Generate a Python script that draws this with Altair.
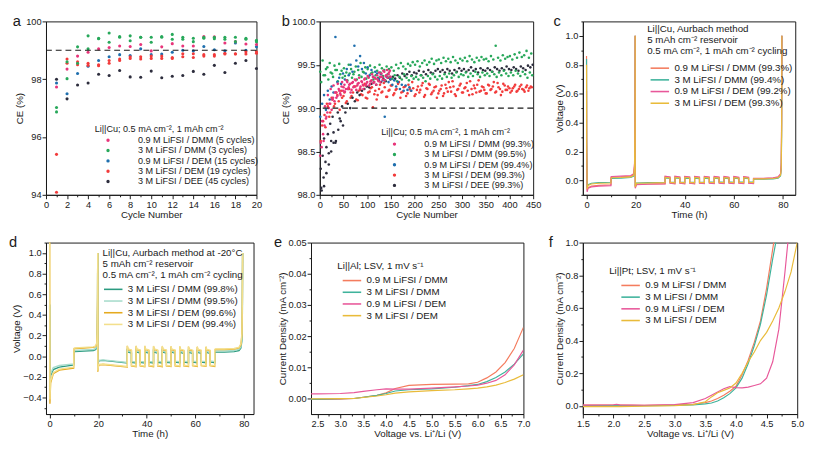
import altair as alt
import pandas as pd

FONT = "Liberation Sans"
INK = "#1a1a1a"

# ---------------- colours ----------------
dot_colors = ["#e8357a", "#27a85a", "#1f6fae", "#f23b3b", "#2d2d3d"]
line_colors = ["#f47c5e", "#3fb39c", "#e8589a", "#e9bb3a"]
d_colors = ["#2b9b80", "#a8dccc", "#e5aa1f", "#f3df8c"]
ref_ce = [99.0]

# ---------------- panel a ----------------
a_names = ["0.9 M LiFSI / DMM (5 cycles)", "3 M LiFSI / DMM (3 cycles)",
           "0.9 M LiFSI / DEM (15 cycles)", "3 M LiFSI / DEM (19 cycles)",
           "3 M LiFSI / DEE (45 cycles)"]
a_cycles = list(range(1, 21))
a_09dmm = [97.73, 98.35, 98.80, 98.93, 99.05, 99.10, 99.15, 99.13, 99.20, 98.98,
           99.12, 99.23, 99.15, 99.15, 99.48, 99.47, 99.25, 99.30, 99.22, 99.20]
a_3dmm_1 = [97.02, 98.60, 99.12, 99.50, 99.42, 99.60, 99.48, 99.50, 99.45, 99.45,
            99.48, 99.55, 99.45, 99.42, 99.42, 99.45, 99.45, 99.45, 99.42, 99.35]
a_3dmm_2 = [96.87, 98.02, 98.55, 99.05, 99.40, 99.28, 99.45, 99.33, 99.45, 99.28,
            99.45, 99.38, 99.38, 99.30, 99.45, 99.40, 99.38, 99.30, 99.38, 99.30]
a_09dem = [97.87, 97.50, 98.20, 98.45, 98.65, 98.78, 98.85, 98.82, 99.05, 98.85,
           98.87, 98.93, 99.00, 98.98, 99.13, 99.02, 98.98, 99.25, 99.00, 99.12]
a_3dem_1 = [95.40, 98.70, 98.60, 98.55, 98.47, 98.65, 98.70, 98.78, 98.78, 98.80,
            98.80, 98.75, 98.88, 98.88, 98.85, 98.85, 98.90, 98.88, 98.95, 98.95]
a_3dem_2 = [94.09, 98.55, 98.50, 98.48, 98.50, 98.55, 98.65, 98.72, 98.70, 98.72,
            98.72, 98.72, 98.78, 98.75, 98.80, 98.80, 98.87, 98.87, 98.87, 98.90]
a_3dee = [98.00, 97.32, 97.80, 97.87, 98.17, 98.13, 98.30, 98.08, 98.07, 98.28,
          98.05, 98.10, 98.13, 98.27, 98.17, 98.48, 98.23, 98.55, 98.65, 98.37]

# ---------------- panel b ----------------
b_names = ["0.9 M LiFSI / DMM (99.3%)", "3 M LiFSI / DMM (99.5%)",
           "0.9 M LiFSI / DEM (99.4%)", "3 M LiFSI / DEM (99.3%)",
           "3 M LiFSI / DEE (99.3%)"]
b_cyc_g1 = list(range(1, 450, 5))
b_3dmm_upper = [99.42, 99.55, 99.38, 99.47, 99.52, 99.40, 99.49, 99.44, 99.51, 99.43,
                99.46, 99.41, 99.50, 99.45, 99.39, 99.48, 99.44, 99.52, 99.42, 99.47,
                99.45, 99.49, 99.41, 99.47, 99.43, 99.50, 99.46, 99.44, 99.48, 99.45,
                99.47, 99.43, 99.50, 99.46, 99.52, 99.48, 99.45, 99.51, 99.49, 99.53,
                99.50, 99.54, 99.48, 99.52, 99.55, 99.50, 99.53, 99.57, 99.51, 99.55,
                99.56, 99.52, 99.58, 99.54, 99.57, 99.53, 99.59, 99.55, 99.52, 99.57,
                99.55, 99.58, 99.54, 99.60, 99.56, 99.53, 99.58, 99.55, 99.59, 99.56,
                99.57, 99.54, 99.60, 99.56, 99.72, 99.58, 99.55, 99.61, 99.57, 99.59,
                99.60, 99.56, 99.62, 99.58, 99.64, 99.59, 99.61, 99.66, 99.58, 99.63]
b_cyc_g2 = list(range(3, 450, 5))
b_3dmm_lower = [99.30, 99.38, 99.45, 99.33, 99.41, 99.36, 99.44, 99.31, 99.39, 99.35,
                99.37, 99.32, 99.40, 99.35, 99.42, 99.33, 99.38, 99.36, 99.41, 99.34,
                99.36, 99.40, 99.33, 99.38, 99.35, 99.41, 99.37, 99.32, 99.39, 99.36,
                99.34, 99.38, 99.31, 99.36, 99.33, 99.39, 99.35, 99.32, 99.37, 99.34,
                99.36, 99.33, 99.38, 99.35, 99.31, 99.37, 99.34, 99.39, 99.36, 99.33,
                99.37, 99.34, 99.39, 99.36, 99.40, 99.35, 99.38, 99.41, 99.36, 99.39,
                99.38, 99.41, 99.36, 99.40, 99.37, 99.42, 99.39, 99.36, 99.41, 99.38,
                99.40, 99.37, 99.42, 99.39, 99.36, 99.41, 99.38, 99.43, 99.40, 99.37,
                99.41, 99.38, 99.43, 99.40, 99.37, 99.42, 99.39, 99.35, 99.41, 99.38]
b_cyc_r = list(range(2, 450, 5))
b_3dem = [98.62, 98.85, 98.78, 99.02, 98.95, 99.10, 99.05, 99.15, 98.98, 99.12,
          99.18, 99.08, 99.22, 99.14, 99.25, 99.10, 99.20, 99.16, 99.26, 99.12,
          99.18, 99.23, 99.01, 99.20, 99.15, 99.27, 99.19, 99.24, 99.13, 99.21,
          99.26, 99.17, 99.22, 99.30, 99.18, 99.24, 99.14, 99.27, 99.20, 99.23,
          99.16, 99.25, 99.21, 99.29, 99.15, 99.22, 99.27, 99.18, 99.24, 99.12,
          99.20, 99.26, 99.17, 99.23, 99.30, 99.19, 99.25, 99.14, 99.22, 99.28,
          99.18, 99.24, 99.20, 99.31, 99.16, 99.23, 99.27, 99.19, 99.25, 99.21,
          99.17, 99.26, 99.22, 99.30, 99.19, 99.24, 99.15, 99.28, 99.21, 99.25,
          99.18, 99.23, 99.27, 99.20, 99.25, 99.22, 99.19, 99.26, 99.23, 99.24]
b_cyc_r2 = list(range(5, 450, 5))
b_3dem_2 = [98.80, 98.92, 99.05, 98.90, 99.12, 99.02, 99.18, 99.08, 99.20, 99.14,
            99.06, 99.22, 99.12, 99.18, 99.25, 99.09, 99.21, 99.15, 99.28, 99.11,
            99.19, 99.24, 99.16, 99.10, 99.22, 99.18, 99.29, 99.13, 99.20, 99.26,
            99.15, 99.21, 99.28, 99.12, 99.19, 99.25, 99.17, 99.22, 99.30, 99.14,
            99.21, 99.18, 99.26, 99.13, 99.23, 99.28, 99.16, 99.20, 99.25, 99.17,
            99.22, 99.14, 99.27, 99.19, 99.24, 99.31, 99.16, 99.21, 99.26, 99.18,
            99.23, 99.29, 99.15, 99.22, 99.26, 99.18, 99.32, 99.20, 99.24, 99.17,
            99.27, 99.21, 99.25, 99.18, 99.29, 99.22, 99.19, 99.26, 99.21, 99.23,
            99.20, 99.25, 99.19, 99.22, 99.27, 99.21, 99.24, 99.20, 99.25]
b_cyc_k = list(range(4, 450, 5))
b_3dee = [98.05, 98.10, 98.25, 98.35, 98.50, 98.60, 98.62, 98.75, 98.85, 98.80,
          98.95, 99.05, 99.00, 99.12, 99.08, 99.18, 99.15, 99.20, 99.22, 99.25,
          99.24, 99.28, 99.30, 99.27, 99.32, 99.30, 99.34, 99.31, 99.35, 99.33,
          99.36, 99.34, 99.38, 99.35, 99.40, 99.37, 99.39, 99.42, 99.38, 99.41,
          99.40, 99.43, 99.38, 99.42, 99.39, 99.44, 99.41, 99.40, 99.43, 99.45,
          99.42, 99.44, 99.41, 99.45, 99.43, 99.40, 99.44, 99.42, 99.46, 99.43,
          99.45, 99.42, 99.44, 99.47, 99.43, 99.45, 99.41, 99.46, 99.44, 99.43,
          99.46, 99.44, 99.42, 99.47, 99.45, 99.43, 99.46, 99.44, 99.48, 99.45,
          99.44, 99.47, 99.45, 99.43, 99.48, 99.46, 99.44, 99.49, 99.47, 99.50]
b_cyc_k2 = [2, 3, 6, 8, 9, 12, 14, 17, 19, 22, 24, 27, 29, 33, 38, 42, 47]
b_3dee_2 = [98.30, 98.08, 98.45, 98.20, 98.65, 98.38, 98.55, 98.70, 98.48, 98.82,
            98.62, 98.90, 98.72, 98.60, 98.95, 98.88, 99.02]
b_cyc_p = list(range(1, 150, 3))
b_09dmm = [98.45, 98.55, 98.70, 98.80, 98.88, 98.95, 99.00, 99.05, 98.98, 99.12,
           99.08, 99.18, 99.14, 99.22, 99.17, 99.25, 99.20, 99.27, 99.22, 99.30,
           99.24, 99.28, 99.21, 99.30, 99.25, 99.32, 99.26, 99.29, 99.23, 99.31,
           99.27, 99.33, 99.26, 99.30, 99.35, 99.28, 99.32, 99.36, 99.30, 99.34,
           99.38, 99.31, 99.36, 99.40, 99.33, 99.42, 99.37, 99.44, 99.39, 99.43]
b_cyc_p2 = list(range(2, 150, 3))
b_09dmm_2 = [98.60, 98.85, 98.62, 99.02, 98.90, 99.15, 99.05, 99.22, 99.10, 99.26,
             99.18, 99.12, 99.28, 99.20, 99.15, 99.30, 99.24, 99.19, 99.32, 99.22,
             99.27, 99.18, 99.29, 99.24, 99.33, 99.21, 99.28, 99.35, 99.25, 99.30,
             99.22, 99.34, 99.28, 99.37, 99.26, 99.31, 99.39, 99.29, 99.35, 99.27,
             99.33, 99.41, 99.30, 99.36, 99.43, 99.32, 99.38, 99.35, 99.41, 99.36]
b_cyc_b = list(range(1, 196, 4))
b_09dem = [98.90, 99.05, 99.15, 98.98, 99.20, 99.10, 99.25, 99.18, 99.82, 99.30,
           99.35, 99.28, 99.40, 99.33, 99.45, 99.38, 99.50, 99.42, 99.72, 99.55,
           99.48, 99.60, 99.45, 99.52, 99.40, 99.47, 99.38, 99.44, 99.36, 99.42,
           99.40, 99.34, 99.39, 99.32, 98.90, 99.36, 99.30, 99.34, 99.27, 99.32,
           99.25, 99.30, 99.22, 99.27, 99.20, 99.26, 99.21, 99.24, 99.20]

# ---------------- panel c ----------------
c_names = ["0.9 M LiFSI / DMM (99.3%)", "3 M LiFSI / DMM (99.4%)",
           "0.9 M LiFSI / DEM (99.2%)", "3 M LiFSI / DEM (99.3%)"]
c_time = [0.0, 0.05, 0.25, 0.6, 2.0, 5.0, 9.95, 10.0, 10.3, 14.0, 18.0, 19.2, 19.55, 19.7,
          19.8, 19.85, 20.3, 25.0, 32.0,
          32.0, 34.0, 34.0, 36.0, 36.0, 38.0, 38.0, 40.0, 40.0, 42.0, 42.0, 44.0,
          44.0, 46.0, 46.0, 48.0, 48.0, 50.0, 50.0, 52.0, 52.0, 54.0, 54.0, 56.0,
          56.0, 58.0, 58.0, 60.0, 60.0, 62.0, 62.0, 64.0, 64.0, 66.0, 66.0, 68.0,
          68.0, 72.0, 76.0, 78.0, 79.0, 79.3, 79.45, 79.55]
c_09dmm = [0.86, 0.30, -0.07, -0.05, -0.04, -0.035, -0.03, 0.02, 0.022, 0.024, 0.028, 0.04, 0.10, 0.45,
           1.0, -0.05, -0.028, -0.025, -0.022,
           0.026, 0.021, -0.018, -0.022, 0.026, 0.021, -0.018, -0.022, 0.025, 0.021, -0.018, -0.022,
           0.025, 0.020, -0.018, -0.021, 0.025, 0.020, -0.017, -0.021, 0.024, 0.020, -0.017, -0.021,
           0.024, 0.020, -0.017, -0.021, 0.024, 0.019, -0.017, -0.020, 0.024, 0.019, -0.017, -0.020,
           0.012, 0.012, 0.016, 0.022, 0.04, 0.10, 0.40, 1.0]
c_3dmm = [0.84, 0.28, -0.05, -0.03, -0.02, -0.016, -0.013, 0.012, 0.014, 0.016, 0.02, 0.03, 0.08, 0.35,
          1.0, -0.04, -0.018, -0.015, -0.013,
          0.017, 0.013, -0.011, -0.014, 0.017, 0.013, -0.011, -0.014, 0.016, 0.013, -0.011, -0.014,
          0.016, 0.012, -0.011, -0.013, 0.016, 0.012, -0.010, -0.013, 0.016, 0.012, -0.010, -0.013,
          0.015, 0.012, -0.010, -0.013, 0.015, 0.012, -0.010, -0.012, 0.015, 0.011, -0.010, -0.012,
          0.008, 0.008, 0.010, 0.015, 0.03, 0.08, 0.30, 1.0]
c_09dem = [0.62, 0.20, -0.08, -0.055, -0.045, -0.04, -0.036, 0.025, 0.027, 0.03, 0.034, 0.045, 0.12, 0.50,
           1.0, -0.055, -0.03, -0.027, -0.024,
           0.029, 0.024, -0.020, -0.024, 0.029, 0.024, -0.020, -0.024, 0.028, 0.024, -0.020, -0.024,
           0.028, 0.023, -0.020, -0.023, 0.028, 0.023, -0.019, -0.023, 0.027, 0.023, -0.019, -0.023,
           0.027, 0.022, -0.019, -0.023, 0.027, 0.022, -0.019, -0.022, 0.026, 0.022, -0.019, -0.022,
           0.014, 0.014, 0.018, 0.025, 0.045, 0.12, 0.45, 1.0]
c_3dem = [0.80, 0.25, -0.06, -0.035, -0.025, -0.02, -0.018, 0.016, 0.018, 0.02, 0.024, 0.035, 0.09, 0.40,
          1.0, -0.045, -0.02, -0.018, -0.016,
          0.021, 0.017, -0.014, -0.017, 0.021, 0.017, -0.014, -0.017, 0.020, 0.017, -0.014, -0.017,
          0.020, 0.016, -0.014, -0.016, 0.020, 0.016, -0.013, -0.016, 0.019, 0.016, -0.013, -0.016,
          0.019, 0.016, -0.013, -0.016, 0.019, 0.015, -0.013, -0.015, 0.019, 0.015, -0.013, -0.015,
          0.010, 0.010, 0.013, 0.018, 0.035, 0.09, 0.35, 1.0]

# ---------------- panel d ----------------
d_names = ["3 M LiFSI / DMM (99.8%)", "3 M LiFSI / DMM (99.5%)",
           "3 M LiFSI / DEM (99.6%)", "3 M LiFSI / DEM (99.4%)"]
d_time = [0.0, 0.05, 0.12, 0.4, 1.5, 4.0, 9.9, 10.0, 10.4, 14.0, 18.0, 19.0, 19.4, 19.6, 19.75,
          19.8, 19.85, 20.2, 22.0, 26.0, 32.0,
          32.0, 32.3, 33.7, 33.7, 35.6, 35.6, 35.9, 37.3, 37.3, 39.2,
          39.2, 39.5, 40.9, 40.9, 42.8, 42.8, 43.1, 44.5, 44.5, 46.4,
          46.4, 46.7, 48.1, 48.1, 50.0, 50.0, 50.3, 51.7, 51.7, 53.6,
          53.6, 53.9, 55.3, 55.3, 57.2, 57.2, 57.5, 58.9, 58.9, 60.8,
          60.8, 61.1, 62.5, 62.5, 64.4, 64.4, 64.7, 66.1, 66.1, 68.0,
          68.0, 68.4, 72.0, 76.0, 78.0, 78.8, 79.2, 79.4, 79.5]
d_dmm_a = [0.50, -0.10, -0.34, -0.19, -0.13, -0.105, -0.085, 0.04, 0.045, 0.05, 0.055, 0.065, 0.09,
           0.15, 0.5, 1.0, -0.09, -0.045, -0.04, -0.05, -0.065,
           0.070, 0.040, 0.030, -0.060, -0.066, 0.068, 0.040, 0.030, -0.060, -0.066,
           0.067, 0.039, 0.030, -0.060, -0.065, 0.066, 0.039, 0.029, -0.059, -0.065,
           0.065, 0.038, 0.029, -0.059, -0.064, 0.064, 0.038, 0.029, -0.058, -0.064,
           0.063, 0.037, 0.028, -0.058, -0.063, 0.062, 0.037, 0.028, -0.057, -0.063,
           0.061, 0.036, 0.028, -0.057, -0.062, 0.060, 0.036, 0.027, -0.056, -0.062,
           0.035, 0.040, 0.040, 0.045, 0.055, 0.08, 0.15, 0.40, 1.0]
d_dmm_b = [0.48, -0.08, -0.30, -0.17, -0.11, -0.09, -0.075, 0.05, 0.055, 0.06, 0.065, 0.075, 0.10,
           0.17, 0.55, 1.0, -0.08, -0.04, -0.035, -0.045, -0.06,
           0.078, 0.050, 0.040, -0.050, -0.056, 0.077, 0.050, 0.040, -0.050, -0.056,
           0.076, 0.049, 0.040, -0.050, -0.055, 0.075, 0.049, 0.039, -0.049, -0.055,
           0.074, 0.048, 0.039, -0.049, -0.054, 0.073, 0.048, 0.039, -0.048, -0.054,
           0.072, 0.047, 0.038, -0.048, -0.053, 0.071, 0.047, 0.038, -0.047, -0.053,
           0.070, 0.046, 0.038, -0.047, -0.052, 0.069, 0.046, 0.037, -0.046, -0.052,
           0.045, 0.050, 0.050, 0.055, 0.065, 0.09, 0.17, 0.45, 1.0]
d_dem_a = [1.60, -0.20, -0.46, -0.26, -0.17, -0.135, -0.115, 0.07, 0.075, 0.08, 0.085, 0.095, 0.12,
           0.20, 0.6, 1.0, -0.15, -0.085, -0.08, -0.09, -0.105,
           0.098, 0.066, 0.055, -0.095, -0.102, 0.097, 0.066, 0.055, -0.095, -0.102,
           0.096, 0.065, 0.055, -0.095, -0.101, 0.095, 0.065, 0.054, -0.094, -0.101,
           0.094, 0.064, 0.054, -0.094, -0.100, 0.093, 0.064, 0.054, -0.093, -0.100,
           0.092, 0.063, 0.053, -0.093, -0.099, 0.091, 0.063, 0.053, -0.092, -0.099,
           0.090, 0.062, 0.053, -0.092, -0.098, 0.089, 0.062, 0.052, -0.091, -0.098,
           0.060, 0.065, 0.065, 0.07, 0.08, 0.11, 0.20, 0.50, 1.0]
d_dem_b = [1.50, -0.18, -0.42, -0.24, -0.16, -0.125, -0.105, 0.075, 0.08, 0.085, 0.09, 0.10, 0.13,
           0.22, 0.62, 1.0, -0.14, -0.08, -0.075, -0.085, -0.10,
           0.103, 0.071, 0.060, -0.090, -0.096, 0.102, 0.071, 0.060, -0.090, -0.096,
           0.101, 0.070, 0.060, -0.090, -0.095, 0.100, 0.070, 0.059, -0.089, -0.095,
           0.099, 0.069, 0.059, -0.089, -0.094, 0.098, 0.069, 0.059, -0.088, -0.094,
           0.097, 0.068, 0.058, -0.088, -0.093, 0.096, 0.068, 0.058, -0.087, -0.093,
           0.095, 0.067, 0.058, -0.087, -0.092, 0.094, 0.067, 0.057, -0.086, -0.092,
           0.065, 0.070, 0.070, 0.075, 0.085, 0.12, 0.22, 0.52, 1.0]

# ---------------- panel e ----------------
lsv_names = ["0.9 M LiFSI / DMM", "3 M LiFSI / DMM", "0.9 M LiFSI / DEM", "3 M LiFSI / DEM"]
e_volt = [2.36, 2.5, 3.0, 3.3, 3.5, 3.8, 4.0, 4.2, 4.5, 5.0, 5.5, 5.8, 6.0, 6.2, 6.4, 6.6, 6.8, 7.0]
e_09dmm = [-0.0003, -0.0003, -0.0002, 0.0, 0.0004, 0.0010, 0.0018, 0.0032, 0.0042, 0.0045, 0.0046,
           0.0047, 0.0052, 0.0066, 0.0085, 0.0115, 0.0160, 0.0228]
e_3dmm = [-0.0002, -0.0002, -0.0001, 0.0, 0.0004, 0.0010, 0.0016, 0.0024, 0.0028, 0.0031, 0.0036,
          0.0041, 0.0045, 0.0054, 0.0067, 0.0085, 0.0110, 0.0143]
e_09dem = [0.0015, 0.0015, 0.0016, 0.0019, 0.0023, 0.0028, 0.0031, 0.0030, 0.0030, 0.0033, 0.0037,
           0.0040, 0.0043, 0.0049, 0.0058, 0.0076, 0.0108, 0.0155]
e_3dem = [-0.0001, -0.0001, 0.0, 0.0, 0.0003, 0.0008, 0.0012, 0.0017, 0.0021, 0.0025, 0.0028,
          0.0031, 0.0033, 0.0037, 0.0043, 0.0051, 0.0062, 0.0076]

# ---------------- panel f ----------------
f_volt = [1.5, 2.0, 2.05, 2.1, 2.5, 3.0, 3.3, 3.5, 3.6, 3.7, 3.8, 3.9, 4.0, 4.1, 4.2, 4.3, 4.4,
          4.5, 4.6, 4.7, 4.8, 4.9, 5.0]
f_09dmm = [0.005, 0.005, 0.005, 0.005, 0.004, 0.006, 0.010, 0.020, 0.030, 0.045, 0.065, 0.090,
           0.120, 0.190, 0.280, 0.390, 0.520, 0.720, 0.960, 1.2, 1.5, 1.8, 2.0]
f_3dmm = [0.0, 0.0, 0.0, 0.0, 0.001, 0.003, 0.006, 0.012, 0.018, 0.030, 0.050, 0.075, 0.110,
          0.170, 0.260, 0.370, 0.500, 0.680, 0.900, 1.1, 1.4, 1.7, 2.0]
f_09dem = [0.005, 0.007, 0.010, 0.006, 0.004, 0.008, 0.020, 0.045, 0.065, 0.085, 0.105, 0.118,
           0.112, 0.110, 0.115, 0.125, 0.135, 0.170, 0.270, 0.470, 0.820, 1.2, 1.5]
f_3dem = [-0.004, -0.004, -0.004, -0.004, -0.002, 0.002, 0.008, 0.025, 0.055, 0.080, 0.095, 0.110,
          0.140, 0.200, 0.270, 0.330, 0.400, 0.450, 0.520, 0.600, 0.700, 0.820, 1.0]

# ---------------- helpers ----------------
def pts_df(pairs):
    rows = []
    for name, xs, ys in pairs:
        for x, y in zip(xs, ys):
            rows.append({"x": x, "y": y, "s": name})
    return pd.DataFrame(rows)


def line_df(xs, names, series):
    rows = []
    for name, ys in zip(names, series):
        for i, (x, y) in enumerate(zip(xs, ys)):
            rows.append({"x": x, "y": y, "s": name, "i": i})
    return pd.DataFrame(rows)


def axis(values, major, fmt, title):
    test = f"abs(datum.value/{major} - round(datum.value/{major})) < 1e-6"
    return alt.Axis(values=values, format=fmt, title=title, labelOverlap=False,
                    labelExpr=f"({test}) ? datum.label : ''",
                    tickSize={"condition": {"test": test, "value": 4}, "value": 2})


def steps(lo, hi, step, nd=3):
    out = []
    v = lo
    while v <= hi + 1e-9:
        out.append(round(v, nd))
        v += step
    return out


def dot_legend(title, lx, ly):
    return alt.Legend(orient="none", legendX=lx, legendY=ly, title=title,
                      titleFontSize=9.3, titleFontWeight="normal", labelFontSize=9.3,
                      symbolType="circle", symbolSize=12, symbolOffset=9, labelOffset=26,
                      rowPadding=0.6, titlePadding=2, padding=0, labelLimit=300, titleLimit=300)


LINE_SYMBOL = "M-2,0H2"


def line_legend(title, lx, ly, sym_off=5, tpad=4):
    return alt.Legend(orient="none", legendX=lx, legendY=ly, title=title,
                      titleFontSize=10, titleFontWeight="normal", labelFontSize=10,
                      titleLineHeight=11, symbolType=LINE_SYMBOL, symbolSize=90,
                      symbolStrokeWidth=1.6, symbolOffset=sym_off, labelOffset=9,
                      rowPadding=1, titlePadding=tpad, padding=0, labelLimit=300, titleLimit=300)


def title(t, dx):
    return alt.TitleParams(text=t, anchor="start", frame="group", dx=dx, fontSize=15,
                           fontWeight="normal", font=FONT, color=INK, offset=-13)


hdr_cu = "Li||Cu; 0.5 mA cm\u207b\u00b2, 1 mAh cm\u207b\u00b2"
ce_rule_df = pd.DataFrame({"y": ref_ce})

# ---------------- panel a chart ----------------
a_df = pts_df([(a_names[4], a_cycles, a_3dee), (a_names[2], a_cycles, a_09dem),
               (a_names[3], a_cycles, a_3dem_1), (a_names[3], a_cycles, a_3dem_2),
               (a_names[0], a_cycles, a_09dmm), (a_names[1], a_cycles, a_3dmm_1),
               (a_names[1], a_cycles, a_3dmm_2)])
a_pts = alt.Chart(a_df).mark_circle(size=10, opacity=1).encode(
    x=alt.X("x:Q", scale=alt.Scale(domain=[0, 20], nice=False),
            axis=axis(steps(0, 20, 1), 2, "d", "Cycle Number")),
    y=alt.Y("y:Q", scale=alt.Scale(domain=[94, 100], nice=False, zero=False),
            axis=axis(steps(94, 100, 0.5), 1, "d", "CE (%)")),
    color=alt.Color("s:N", scale=alt.Scale(domain=a_names, range=dot_colors),
                    legend=dot_legend(hdr_cu, 50, 106)))
a_rule = alt.Chart(ce_rule_df).mark_rule(strokeDash=[6, 4], color=INK, strokeWidth=1.1).encode(y="y:Q")
pa = alt.layer(a_pts, a_rule).properties(width=216, height=178, title=title("a", -34))

# ---------------- panel b chart ----------------
b_df = pts_df([(b_names[3], b_cyc_r, b_3dem), (b_names[3], b_cyc_r2, b_3dem_2),
               (b_names[4], b_cyc_k, b_3dee), (b_names[4], b_cyc_k2, b_3dee_2),
               (b_names[1], b_cyc_g2, b_3dmm_lower), (b_names[1], b_cyc_g1, b_3dmm_upper),
               (b_names[2], b_cyc_b, b_09dem), (b_names[0], b_cyc_p, b_09dmm),
               (b_names[0], b_cyc_p2, b_09dmm_2)])
b_pts = alt.Chart(b_df).mark_circle(size=7, opacity=1).encode(
    x=alt.X("x:Q", scale=alt.Scale(domain=[0, 450], nice=False),
            axis=axis(steps(0, 450, 25), 50, "d", "Cycle Number")),
    y=alt.Y("y:Q", scale=alt.Scale(domain=[98, 100], nice=False, zero=False),
            axis=axis(steps(98, 100, 0.25, 2), 0.5, ".1f", "CE (%)")),
    color=alt.Color("s:N", scale=alt.Scale(domain=b_names, range=dot_colors),
                    legend=dot_legend(hdr_cu, 63, 110)))
b_rule = alt.Chart(ce_rule_df).mark_rule(strokeDash=[6, 4], color=INK, strokeWidth=1.1).encode(y="y:Q")
pb = alt.layer(b_pts, b_rule).properties(width=219, height=178, title=title("b", -39))


# ---------------- line panels ----------------
def line_panel(df, names, colors, xdom, xaxis, ydom, yaxis, legend, w, h, letter, dx, sw=1.2):
    return alt.Chart(df).mark_line(strokeWidth=sw, clip=True).encode(
        x=alt.X("x:Q", scale=alt.Scale(domain=xdom, nice=False, zero=False), axis=xaxis),
        y=alt.Y("y:Q", scale=alt.Scale(domain=ydom, nice=False, zero=False), axis=yaxis),
        color=alt.Color("s:N", scale=alt.Scale(domain=names, range=colors), legend=legend),
        order=alt.Order("i:Q"),
    ).properties(width=w, height=h, title=title(letter, dx))


c_df = line_df(c_time, c_names, [c_09dmm, c_3dmm, c_09dem, c_3dem])
pc = line_panel(c_df, c_names, line_colors, [-1.5, 85],
                axis(steps(0, 80, 10), 20, "d", "Time (h)"),
                [-0.1, 1.1], axis(steps(-0.1, 1.1, 0.1, 2), 0.2, ".1f", "Voltage (V)"),
                line_legend(["Li||Cu, Aurbach method", "5 mAh cm\u207b\u00b2 reservoir",
                             "0.5 mA cm\u207b\u00b2, 1 mAh cm\u207b\u00b2 cycling"], 66, 3,
                            sym_off=7, tpad=7),
                218, 178, "c", -30)

d_df = line_df(d_time, d_names, [d_dmm_a, d_dmm_b, d_dem_a, d_dem_b])
pd_ = line_panel(d_df, d_names, d_colors, [-1.5, 84],
                 axis(steps(0, 80, 10), 20, "d", "Time (h)"),
                 [-0.56, 1.1], axis(steps(-0.5, 1.1, 0.1, 2), 0.2, ".1f", "Voltage (V)"),
                 line_legend(["Li||Cu, Aurbach method at -20\u00b0C", "5 mAh cm\u207b\u00b2 reservoir",
                              "0.5 mA cm\u207b\u00b2, 1 mAh cm\u207b\u00b2 cycling"], 58, 6),
                 213, 176, "d", -38, sw=1.4)

e_df = line_df(e_volt, lsv_names, [e_09dmm, e_3dmm, e_09dem, e_3dem])
pe = line_panel(e_df, lsv_names, line_colors, [2.36, 7.0],
                axis(steps(2.5, 7.0, 0.25, 2), 0.5, ".1f", "Voltage vs. Li\u207a/Li (V)"),
                [-0.005, 0.05], axis(steps(0, 0.05, 0.005, 3), 0.01, ".2f",
                                     "Current Density (mA cm\u207b\u00b2)"),
                line_legend("Li||Al; LSV, 1 mV s\u207b\u00b9", 27, 19, sym_off=9),
                218, 176, "e", -38)

f_df = line_df(f_volt, lsv_names, [f_09dmm, f_3dmm, f_09dem, f_3dem])
pf = line_panel(f_df, lsv_names, line_colors, [1.5, 5.0],
                axis(steps(1.5, 5.0, 0.25, 2), 0.5, ".1f", "Voltage vs. Li\u207a/Li (V)"),
                [-0.05, 1.0], axis(steps(0, 1.0, 0.1, 2), 0.2, ".1f",
                                   "Current Density (mA cm\u207b\u00b2)"),
                line_legend("Li||Pt; LSV, 1 mV s\u207b\u00b9", 27, 24, sym_off=16),
                220, 176, "f", -35)

row1 = alt.hconcat(
    alt.hconcat(pa, pb, spacing=18).resolve_scale(color="independent"),
    pc, spacing=11).resolve_scale(color="independent")
row2 = alt.hconcat(
    alt.hconcat(pd_, pe, spacing=19).resolve_scale(color="independent"),
    pf, spacing=17).resolve_scale(color="independent")

chart = alt.vconcat(row1, row2, spacing=15).resolve_scale(color="independent").properties(
    padding={"left": 0, "top": 0, "right": 0, "bottom": 0}
).configure_axis(
    labelFont=FONT, titleFont=FONT, labelFontSize=9.5, titleFontSize=10,
    labelColor=INK, titleColor=INK, domainColor=INK, tickColor=INK,
    titleFontWeight="normal", grid=False, labelPadding=1, titlePadding=1,
    labelOverlap=False, labelFlush=False
).configure_legend(
    labelFont=FONT, titleFont=FONT, labelColor=INK, titleColor=INK
).configure_view(stroke=INK, strokeWidth=1)

chart.save("out.html", embed_options={"renderer": "svg", "actions": False})
